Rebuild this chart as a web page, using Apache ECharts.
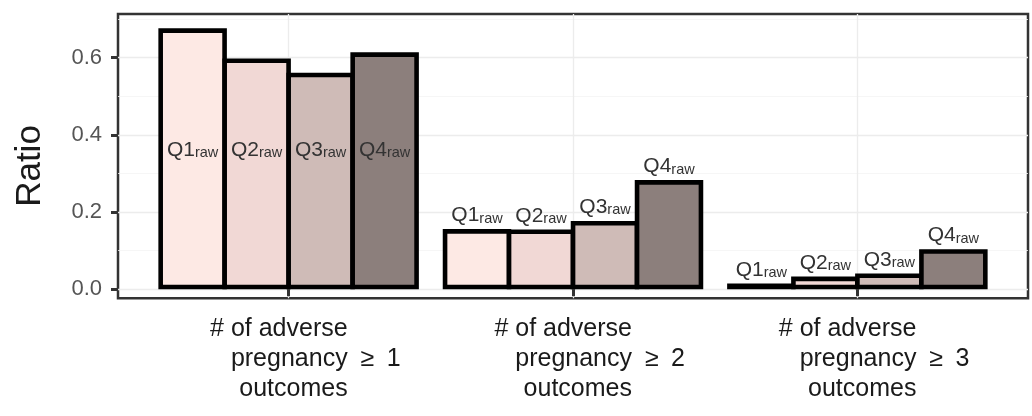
<!DOCTYPE html>
<html><head><meta charset="utf-8">
<script src="https://cdn.jsdelivr.net/npm/echarts@6/dist/echarts.min.js"></script>
<style>html,body{margin:0;padding:0;background:#fff}#c{width:1032px;height:416px}</style>
</head><body><div id="c"></div>
<script>
// ---- data ----
const categories = ['≥ 1', '≥ 2', '≥ 3'];
const categoryTitle = ['# of adverse', 'pregnancy', 'outcomes'];
const seriesNames = ['Q1', 'Q2', 'Q3', 'Q4'];
const q1 = [0.676, 0.156, 0.015];
const q2 = [0.598, 0.155, 0.033];
const q3 = [0.561, 0.177, 0.041];
const q4 = [0.614, 0.283, 0.104];
const yTicks = [0, 0.2, 0.4, 0.6];
const yMinorTicks = [0.1, 0.3, 0.5, 0.7];
const yAxisTitle = 'Ratio';
const labelSub = 'raw';

// ---- styles ----
const FONT = '"Liberation Sans", Arial, Helvetica, sans-serif';
const colors = ['#fde9e4', '#f1d8d5', '#cfbbb7', '#8c7f7c'];
const seriesValues = [q1, q2, q3, q4];
const catPos = categories.map((c, i) => i + 1);

const chart = echarts.init(document.getElementById('c'), null, {renderer: 'canvas'});

const series = seriesNames.map((name, si) => ({
  name: name,
  type: 'bar',
  xAxisIndex: 0,
  yAxisIndex: 0,
  barWidth: 68.5,
  barGap: '-6.57%',
  itemStyle: {color: colors[si], borderColor: '#000', borderWidth: 4.6},
  emphasis: {disabled: true},
  label: {
    show: true,
    position: 'top',
    distance: 3,
    formatter: () => '{q|' + name + '}{s|' + labelSub + '}',
    rich: {
      q: {fontFamily: FONT, fontSize: 21, lineHeight: 22, color: '#333', verticalAlign: 'bottom'},
      s: {fontFamily: FONT, fontSize: 14.5, lineHeight: 15, color: '#333', verticalAlign: 'bottom'}
    }
  },
  data: seriesValues[si].map((v, ci) => {
    const item = {value: [catPos[ci], v]};
    if (ci === 0) item.label = {position: 'insideBottom', distance: 129};
    return item;
  })
}));

const option = {
  animation: false,
  backgroundColor: '#fff',
  grid: {
    left: 118, top: 14, width: 910, height: 284.3,
    show: true, borderColor: '#333', borderWidth: 2.5, backgroundColor: 'transparent',
    containLabel: false
  },
  xAxis: [{
    type: 'value',
    min: 0.4, max: 3.6,
    axisLine: {show: false},
    axisTick: {show: true, customValues: catPos, length: 7, lineStyle: {color: '#333', width: 3}},
    splitLine: {show: true, lineStyle: {color: '#ececec', width: 1.3}},
    minorSplitLine: {show: false},
    axisLabel: {
      show: true,
      customValues: catPos,
      margin: 16,
      formatter: (v) => {
        const c = categories[Math.round(v) - 1].replace(' ', '\u2002');
        return '{a|' + categoryTitle[0] + '}{b| }\n{a|' + categoryTitle[1] + '}{b|' + c + '}\n{a|' + categoryTitle[2] + '}{b| }';
      },
      rich: {
        a: {fontFamily: FONT, fontSize: 25, lineHeight: 30, color: '#1a1a1a', width: 171, align: 'right'},
        b: {fontFamily: FONT, fontSize: 25, lineHeight: 30, color: '#1a1a1a', width: 53, align: 'right'}
      }
    }
  }],
  yAxis: [{
    type: 'value',
    min: -0.0233, max: 0.7132,
    axisLine: {show: false},
    axisTick: {show: true, customValues: yTicks, length: 7, lineStyle: {color: '#333', width: 3}},
    axisLabel: {
      show: true, customValues: yTicks, margin: 16,
      formatter: (v) => v.toFixed(1),
      fontFamily: FONT, fontSize: 22, color: '#555'
    },
    splitLine: {show: true, lineStyle: {color: '#ececec', width: 1.3}}
  }, {
    type: 'value',
    min: -0.0233, max: 0.7132,
    position: 'left',
    axisLine: {show: false},
    axisTick: {show: false, customValues: yMinorTicks},
    axisLabel: {show: false, customValues: yMinorTicks},
    splitLine: {show: true, lineStyle: {color: '#f4f4f4', width: 0.8}}
  }],
  graphic: [{
    type: 'text',
    x: 30, y: 166,
    rotation: Math.PI / 2,
    style: {
      text: yAxisTitle, x: 0, y: 0,
      textAlign: 'center', textVerticalAlign: 'middle',
      font: '35px ' + FONT, fill: '#1a1a1a'
    }
  }],
  series: series
};
chart.setOption(option);
</script>
</body></html>
